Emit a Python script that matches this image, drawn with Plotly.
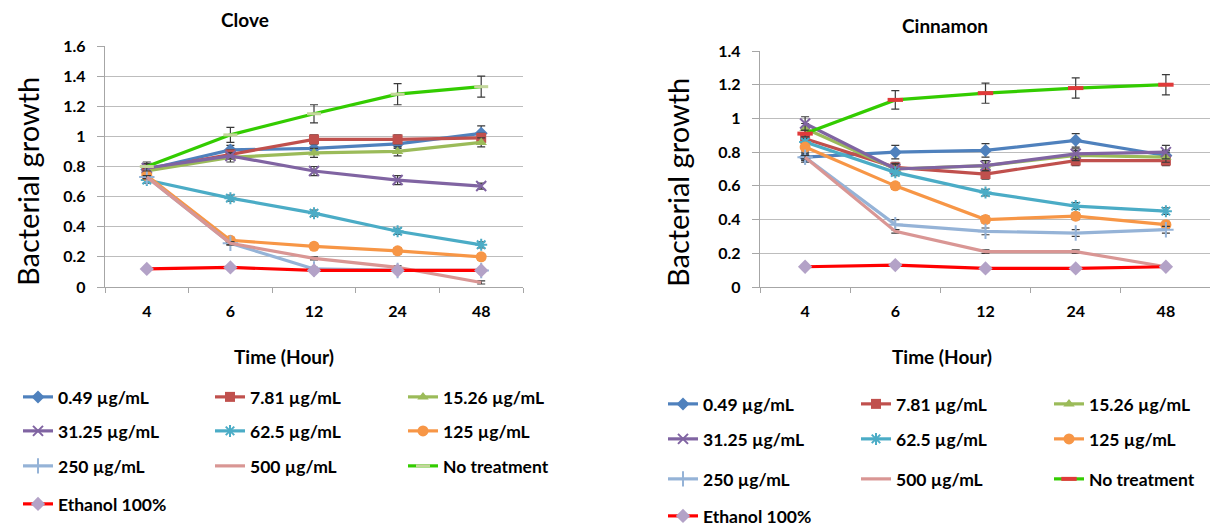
import plotly.graph_objects as go

# ---------------- data ----------------
times = ["4", "6", "12", "24", "48"]
series_names = ["0.49 µg/mL", "7.81 µg/mL", "15.26 µg/mL", "31.25 µg/mL", "62.5 µg/mL",
                "125 µg/mL", "250 µg/mL", "500 µg/mL", "No treatment", "Ethanol 100%"]

# Clove
clove_049 = [0.78, 0.91, 0.92, 0.95, 1.02]
clove_781 = [0.78, 0.88, 0.98, 0.98, 0.99]
clove_1526 = [0.77, 0.86, 0.89, 0.90, 0.96]
clove_3125 = [0.79, 0.87, 0.77, 0.71, 0.67]
clove_625 = [0.71, 0.59, 0.49, 0.37, 0.28]
clove_125 = [0.74, 0.31, 0.27, 0.24, 0.20]
clove_250 = [0.73, 0.29, 0.12, 0.11, 0.11]
clove_500 = [0.73, 0.29, 0.19, 0.13, 0.03]
clove_none = [0.80, 1.01, 1.15, 1.28, 1.33]
clove_eth = [0.12, 0.13, 0.11, 0.11, 0.11]

clove_err_049 = [0.03, 0.03, 0.03, 0.03, 0.05]
clove_err_781 = [0.03, 0.03, 0.03, 0.03, 0.03]
clove_err_1526 = [0.02, 0.03, 0.03, 0.03, 0.03]
clove_err_3125 = [0.03, 0.02, 0.03, 0.03, 0.02]
clove_err_625 = [0.02, 0.02, 0.02, 0.02, 0.02]
clove_err_125 = [0.02, 0.02, 0.02, 0.02, 0.02]
clove_err_250 = [0.01, 0.01, 0.01, 0.01, 0.01]
clove_err_500 = [0.01, 0.01, 0.01, 0.01, 0.01]
clove_err_none = [0.03, 0.05, 0.06, 0.07, 0.07]
clove_err_eth = [0.01, 0.01, 0.01, 0.01, 0.01]

# Cinnamon
cin_049 = [0.77, 0.80, 0.81, 0.87, 0.78]
cin_781 = [0.88, 0.71, 0.67, 0.75, 0.75]
cin_1526 = [0.94, 0.70, 0.72, 0.78, 0.77]
cin_3125 = [0.97, 0.70, 0.72, 0.79, 0.80]
cin_625 = [0.86, 0.68, 0.56, 0.48, 0.45]
cin_125 = [0.83, 0.60, 0.40, 0.42, 0.37]
cin_250 = [0.77, 0.37, 0.33, 0.32, 0.34]
cin_500 = [0.77, 0.33, 0.21, 0.21, 0.12]
cin_none = [0.91, 1.11, 1.15, 1.18, 1.20]
cin_eth = [0.12, 0.13, 0.11, 0.11, 0.12]

cin_err_049 = [0.03, 0.04, 0.04, 0.04, 0.03]
cin_err_781 = [0.03, 0.03, 0.03, 0.03, 0.03]
cin_err_1526 = [0.03, 0.03, 0.03, 0.03, 0.03]
cin_err_3125 = [0.04, 0.03, 0.03, 0.03, 0.04]
cin_err_625 = [0.02, 0.02, 0.02, 0.02, 0.02]
cin_err_125 = [0.02, 0.02, 0.02, 0.02, 0.02]
cin_err_250 = [0.02, 0.03, 0.02, 0.02, 0.02]
cin_err_500 = [0.01, 0.01, 0.01, 0.01, 0.01]
cin_err_none = [0.02, 0.055, 0.06, 0.06, 0.06]
cin_err_eth = [0.01, 0.01, 0.01, 0.01, 0.01]

clove_values = [clove_049, clove_781, clove_1526, clove_3125, clove_625,
                clove_125, clove_250, clove_500, clove_none, clove_eth]
clove_errors = [clove_err_049, clove_err_781, clove_err_1526, clove_err_3125, clove_err_625,
                clove_err_125, clove_err_250, clove_err_500, clove_err_none, clove_err_eth]
cin_values = [cin_049, cin_781, cin_1526, cin_3125, cin_625,
              cin_125, cin_250, cin_500, cin_none, cin_eth]
cin_errors = [cin_err_049, cin_err_781, cin_err_1526, cin_err_3125, cin_err_625,
              cin_err_125, cin_err_250, cin_err_500, cin_err_none, cin_err_eth]

# ---------------- styles / layout ----------------
PAGE_W, PAGE_H = 1218, 529
BODY = 8  # default page body margin
W, H = PAGE_W - BODY, PAGE_H - BODY
FONT = "Lato"


def px(x):
    """page pixel x -> paper fraction"""
    return (x - BODY) / W


def py(y):
    """page pixel y -> paper fraction"""
    return 1 - (y - BODY) / H


line_colors = ["#4F81BD", "#C0504D", "#9BBB59", "#8064A2", "#4BACC6",
               "#F79646", "#95B3D7", "#D99694", "#33CC00", "#FF0000"]


def marker_style(i, chart):
    c = line_colors[i]
    if i == 0:
        return dict(symbol="diamond", size=10, color=c)
    if i == 1:
        return dict(symbol="square", size=10, color=c)
    if i == 2:
        return dict(symbol="triangle-up", size=10, color=c)
    if i == 3:
        return dict(symbol="x-thin", size=10, color=c, line=dict(color=c, width=2))
    if i == 4:
        return dict(symbol="asterisk", size=10, color=c, line=dict(color=c, width=2))
    if i == 5:
        return dict(symbol="circle", size=11, color=c)
    if i == 6:
        return dict(symbol="cross-thin", size=11, color=c, line=dict(color=c, width=2))
    if i == 7:
        return dict(symbol="line-ew", size=1, color=c, line=dict(color=c, width=0))
    if i == 8:
        if chart == 0:
            return dict(symbol="line-ew", size=10, color="#C3D69B", line=dict(color="#C3D69B", width=3))
        return dict(symbol="line-ew", size=11, color="#E03A3A", line=dict(color="#E03A3A", width=4))
    return dict(symbol="diamond", size=11, color="#B3A2C7")


# legend grid: column icon-start x and row centre y (page px) per chart
leg_cols = [[23, 215, 408], [668, 861, 1054]]
leg_rows = [[397, 431, 466, 504], [404, 439, 479, 516]]

fig = go.Figure()

charts = [(clove_values, clove_errors, "x", "y"), (cin_values, cin_errors, "x2", "y2")]
for ci, (vals, errs, xa, ya) in enumerate(charts):
    for i, name in enumerate(series_names):
        idx = ci * 10 + i + 1
        leg = "legend" if idx == 1 else f"legend{idx}"
        fig.add_trace(go.Scatter(
            x=times, y=vals[i], name=name, mode="lines+markers",
            line=dict(color=line_colors[i], width=3.2),
            marker=marker_style(i, ci),
            error_y=dict(type="data", array=errs[i], visible=True,
                         color="#3A3A3A", thickness=1.2, width=4),
            xaxis=xa, yaxis=ya, legend=leg, showlegend=True,
        ))
        fig.update_layout({leg: dict(
            orientation="h", x=px(leg_cols[ci][i % 3] - 5), xanchor="left",
            y=py(leg_rows[ci][i // 3]), yanchor="middle",
            font=dict(family=FONT, size=17.5, color="black", weight="bold"),
            itemwidth=30, bgcolor="rgba(0,0,0,0)", borderwidth=0,
            itemclick=False, itemdoubleclick=False,
        )})

grid_c = "#BDBDBD"
axis_c = "#A6A6A6"
tickfont = dict(family=FONT, size=16, color="black", weight="bold")


def xaxis_cfg(domain, anchor):
    return dict(domain=domain, anchor=anchor, type="category", range=[-0.5, 4.5],
                showline=True, linecolor=axis_c, linewidth=1.3,
                ticks="outside", tickson="boundaries", ticklen=5, tickcolor=axis_c,
                showgrid=False, zeroline=False, tickfont=tickfont,
                ticklabelstandoff=10, fixedrange=True)


def yaxis_cfg(domain, anchor, rmax):
    return dict(domain=domain, anchor=anchor, range=[0, rmax], dtick=0.2, tick0=0,
                showline=True, linecolor=axis_c, linewidth=1.3,
                ticks="outside", ticklen=7, tickcolor=axis_c,
                showgrid=True, gridcolor=grid_c, gridwidth=1.3, zeroline=False,
                tickfont=tickfont, ticklabelstandoff=8, fixedrange=True)


fig.update_layout(
    width=W, height=H, margin=dict(l=0, r=0, t=0, b=0, autoexpand=False),
    paper_bgcolor="white", plot_bgcolor="white",
    font=dict(family=FONT, color="black"),
    xaxis=xaxis_cfg([px(105), px(523)], "y"),
    yaxis=yaxis_cfg([py(287), py(46)], "x", 1.6),
    xaxis2=xaxis_cfg([px(760), px(1211)], "y2"),
    yaxis2=yaxis_cfg([py(287), py(51)], "x2", 1.4),
)

annots = [
    dict(text="Clove", x=245, y=20, size=19, weight="bold", angle=0),
    dict(text="Cinnamon", x=945, y=25, size=19, weight="bold", angle=0),
    dict(text="Bacterial growth", x=28, y=182, size=29, weight="normal", angle=-90),
    dict(text="Bacterial growth", x=677, y=183, size=29, weight="normal", angle=-90),
    dict(text="Time (Hour)", x=284, y=356, size=19, weight="bold", angle=0),
    dict(text="Time (Hour)", x=942, y=356, size=19, weight="bold", angle=0),
]
for a in annots:
    fig.add_annotation(text=a["text"], x=px(a["x"]), y=py(a["y"]),
                       xref="paper", yref="paper", xanchor="center", yanchor="middle",
                       showarrow=False, textangle=a["angle"],
                       font=dict(family=FONT, size=a["size"], color="black", weight=a["weight"]))

fig.write_html("out.html")
